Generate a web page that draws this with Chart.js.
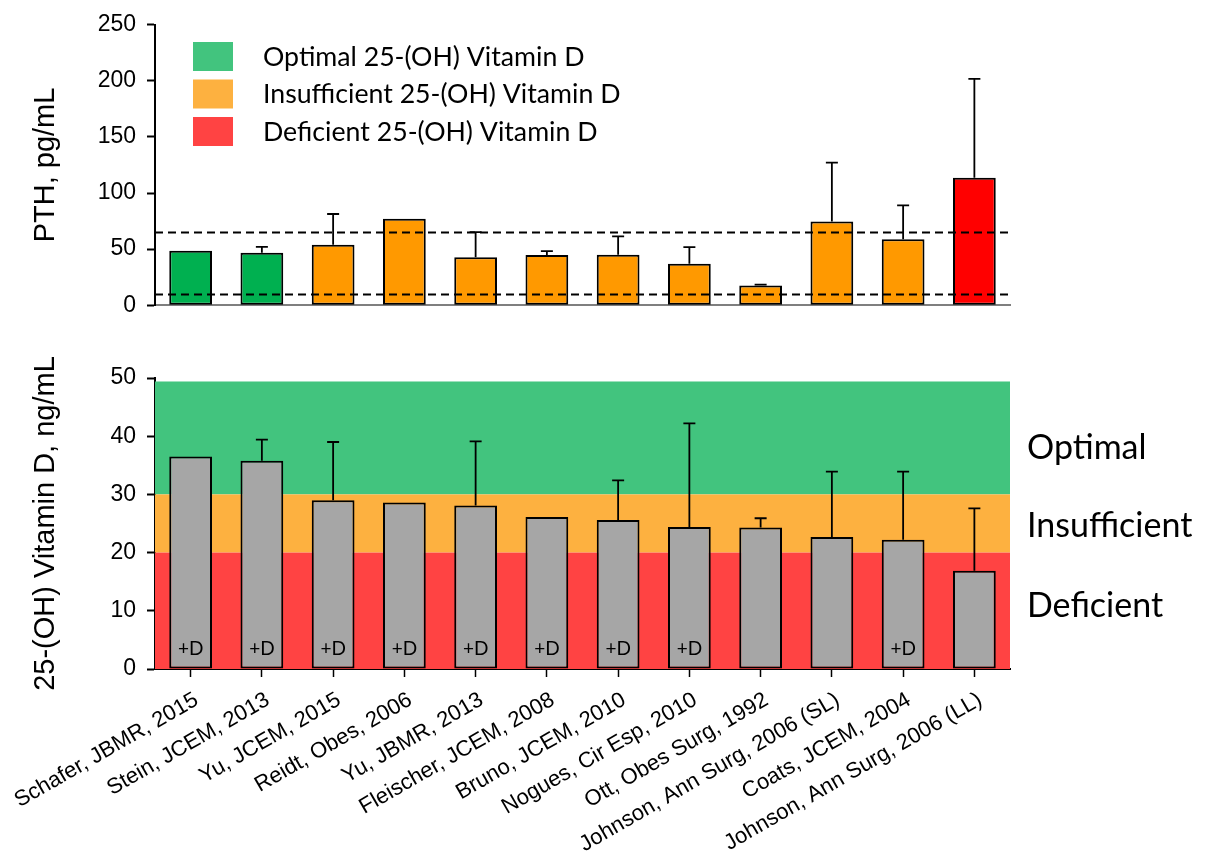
<!DOCTYPE html>
<html>
<head>
<meta charset="utf-8">
<title>PTH and 25-(OH) Vitamin D by study</title>
<script src="https://cdn.jsdelivr.net/npm/chart.js@4.4.1/dist/chart.umd.min.js"></script>
<style>
  html, body { margin: 0; padding: 0; background: #ffffff; }
  #wrap { position: relative; width: 1209px; height: 861px; overflow: hidden; }
  .panel { position: absolute; left: 0; }
</style>
</head>
<body>
<div id="wrap">
  <div class="panel" style="top:0px"><canvas id="pthChart" width="1209" height="330"></canvas></div>
  <div class="panel" style="top:340px"><canvas id="vitdChart" width="1209" height="521"></canvas></div>
</div>
<script>
// ---- data ----
const studies = [
  'Schafer, JBMR, 2015', 'Stein, JCEM, 2013', 'Yu, JCEM, 2015', 'Reidt, Obes, 2006',
  'Yu, JBMR, 2013', 'Fleischer, JCEM, 2008', 'Bruno, JCEM, 2010', 'Nogues, Cir Esp, 2010',
  'Ott, Obes Surg, 1992', 'Johnson, Ann Surg, 2006 (SL)', 'Coats, JCEM, 2004', 'Johnson, Ann Surg, 2006 (LL)'
];
// vitamin D status of each study group (colours the PTH bars)
const studyStatus = [
  'optimal', 'optimal', 'insufficient', 'insufficient', 'insufficient', 'insufficient',
  'insufficient', 'insufficient', 'insufficient', 'insufficient', 'insufficient', 'deficient'
];
const pthMean = [48.5, 46.8, 54.0, 77.0, 42.8, 44.8, 45.0, 37.0, 17.5, 74.7, 58.8, 113.7];
const pthSD   = [null, 5.2, 27.3, null, 22.4, 3.4, 16.4, 14.7, 0.8, 52.5, 30.2, 88.1];
const pthNormalRange = [10, 65];

const vitDMean = [36.5, 35.8, 29.0, 28.6, 28.1, 26.1, 25.6, 24.4, 24.3, 22.7, 22.2, 16.9];
const vitDSD   = [null, 3.6, 10.0, null, 11.0, null, 6.8, 17.8, 1.6, 11.2, 11.7, 10.7];
const supplemented = [true, true, true, true, true, true, true, true, false, false, true, false];

const statusKeys   = ['optimal', 'insufficient', 'deficient'];
const legendTexts  = ['Optimal 25-(OH) Vitamin D', 'Insufficient 25-(OH) Vitamin D', 'Deficient 25-(OH) Vitamin D'];
const bandTexts    = ['Optimal', 'Insufficient', 'Deficient'];
const bandRanges   = [[30, 49.4], [20, 30], [0, 20]];
const bandTextAt   = [38, 24.6, 10.8];

const pthTicks  = { min: 0, max: 250, step: 50 };
const vitDTicks = { min: 0, max: 50, step: 10 };

// ---- styling ----
const barColour  = { optimal: '#00B050', insufficient: '#FF9900', deficient: '#FF0000' };
const zoneColour = { optimal: '#42C47E', insufficient: '#FDB140', deficient: '#FF4343' };
const greyBar = '#A6A6A6';
const sans = "'Liberation Sans', Arial, sans-serif";
const humanist = "Lato, 'Open Sans', sans-serif";

Chart.defaults.font.family = sans;
Chart.defaults.color = '#000';
Chart.defaults.animation = false;

// upward error whiskers, mean + SD
const errorBars = {
  id: 'errorBars',
  afterDatasetsDraw(chart, args, opts) {
    const { ctx } = chart;
    const meta = chart.getDatasetMeta(0);
    const y = chart.scales.y;
    ctx.save();
    ctx.strokeStyle = '#000';
    ctx.lineWidth = 1.8;
    opts.sd.forEach((sd, i) => {
      if (sd == null) return;
      const bar = meta.data[i];
      const top = y.getPixelForValue(opts.mean[i] + sd);
      ctx.beginPath();
      ctx.moveTo(bar.x, bar.y);
      ctx.lineTo(bar.x, top);
      ctx.moveTo(bar.x - 6, top);
      ctx.lineTo(bar.x + 6, top);
      ctx.stroke();
    });
    ctx.restore();
  }
};

// dashed reference lines for the PTH normal range
const referenceLines = {
  id: 'referenceLines',
  afterDatasetsDraw(chart, args, opts) {
    if (!opts.values) return;
    const { ctx, chartArea } = chart;
    const y = chart.scales.y;
    ctx.save();
    ctx.strokeStyle = '#000';
    ctx.lineWidth = 1.8;
    ctx.setLineDash([8, 5]);
    opts.values.forEach(v => {
      const py = Math.round(y.getPixelForValue(v)) + 0.5;
      ctx.beginPath();
      ctx.moveTo(chartArea.left, py);
      ctx.lineTo(chartArea.right, py);
      ctx.stroke();
    });
    ctx.restore();
  }
};

// colour key for vitamin D status
const statusKey = {
  id: 'statusKey',
  afterDraw(chart, args, opts) {
    if (!opts.show) return;
    const { ctx } = chart;
    ctx.save();
    ctx.font = '26.7px ' + humanist;
    ctx.textBaseline = 'middle';
    ctx.textAlign = 'left';
    statusKeys.forEach((k, i) => {
      const top = 42 + i * 37.5;
      ctx.fillStyle = zoneColour[k];
      ctx.fillRect(193, top, 40, 29);
      ctx.fillStyle = '#000';
      ctx.fillText(legendTexts[i], 263, top + 15);
    });
    ctx.restore();
  }
};

// status zones behind the vitamin D bars, with their names at the right
const statusZones = {
  id: 'statusZones',
  beforeDatasetsDraw(chart, args, opts) {
    if (!opts.show) return;
    const { ctx, chartArea } = chart;
    const y = chart.scales.y;
    ctx.save();
    statusKeys.forEach((k, i) => {
      const [lo, hi] = bandRanges[i];
      const top = y.getPixelForValue(hi);
      const bottom = y.getPixelForValue(lo);
      ctx.fillStyle = zoneColour[k];
      ctx.fillRect(chartArea.left, top, chartArea.right - chartArea.left, bottom - top);
    });
    ctx.restore();
  },
  afterDraw(chart, args, opts) {
    if (!opts.show) return;
    const { ctx, chartArea } = chart;
    const y = chart.scales.y;
    ctx.save();
    ctx.font = '34px ' + humanist;
    ctx.textBaseline = 'middle';
    ctx.textAlign = 'left';
    ctx.fillStyle = '#000';
    bandTexts.forEach((t, i) => {
      ctx.fillText(t, chartArea.right + 17, y.getPixelForValue(bandTextAt[i]));
    });
    ctx.restore();
  }
};

// "+D" marks on supplemented groups
const supplementMarks = {
  id: 'supplementMarks',
  afterDatasetsDraw(chart, args, opts) {
    if (!opts.flags) return;
    const { ctx } = chart;
    const meta = chart.getDatasetMeta(0);
    const base = chart.scales.y.getPixelForValue(0);
    ctx.save();
    ctx.font = '19px ' + humanist;
    ctx.textAlign = 'center';
    ctx.textBaseline = 'middle';
    ctx.fillStyle = '#000';
    opts.flags.forEach((f, i) => {
      if (f) ctx.fillText('+D', meta.data[i].x, base - 20);
    });
    ctx.restore();
  }
};

Chart.register(errorBars, referenceLines, statusKey, statusZones, supplementMarks);

function yAxis(ticks, title) {
  return {
    min: ticks.min,
    max: ticks.max,
    afterFit(scale) { scale.width = 155; },
    ticks: { stepSize: ticks.step, font: { size: 23 }, color: '#000', padding: 11 },
    grid: { drawOnChartArea: false, tickLength: 8, tickColor: '#000', tickWidth: 2 },
    border: { color: '#000', width: 2 },
    title: { display: true, text: title, font: { size: 29 }, color: '#000', padding: { top: 29, bottom: 0 } }
  };
}

// PTH panel
new Chart(document.getElementById('pthChart'), {
  type: 'bar',
  data: {
    labels: studies,
    datasets: [{
      data: pthMean,
      backgroundColor: studyStatus.map(s => barColour[s]),
      borderColor: '#000',
      borderWidth: 2,
      borderSkipped: false,
      barPercentage: 0.6,
      categoryPercentage: 1.0
    }]
  },
  options: {
    responsive: false,
    devicePixelRatio: 1,
    layout: { padding: { left: 0, right: 199, top: 17, bottom: 0 } },
    plugins: {
      legend: { display: false },
      tooltip: { enabled: false },
      errorBars: { mean: pthMean, sd: pthSD },
      referenceLines: { values: pthNormalRange },
      statusKey: { show: true }
    },
    scales: {
      x: {
        afterFit(scale) { scale.height = 23; },
        ticks: { display: false },
        grid: { display: true, drawOnChartArea: false, drawTicks: false },
        border: { color: '#7F7F7F', width: 2 }
      },
      y: yAxis(pthTicks, 'PTH, pg/mL')
    }
  }
});

// 25-(OH) vitamin D panel
new Chart(document.getElementById('vitdChart'), {
  type: 'bar',
  data: {
    labels: studies,
    datasets: [{
      data: vitDMean,
      backgroundColor: greyBar,
      borderColor: '#000',
      borderWidth: 2,
      borderSkipped: false,
      barPercentage: 0.6,
      categoryPercentage: 1.0
    }]
  },
  options: {
    responsive: false,
    devicePixelRatio: 1,
    layout: { padding: { left: 0, right: 199, top: 38, bottom: 0 } },
    plugins: {
      legend: { display: false },
      tooltip: { enabled: false },
      errorBars: { mean: vitDMean, sd: vitDSD },
      statusZones: { show: true },
      supplementMarks: { flags: supplemented }
    },
    scales: {
      x: {
        afterFit(scale) {
          scale.height = 192;
          // rotated names may spill into the margin; keep the plot edges fixed
          scale.paddingLeft = 0;
          scale.paddingRight = 0;
        },
        ticks: { font: { size: 22 }, color: '#000', minRotation: 30, maxRotation: 30, autoSkip: false, padding: 10, labelOffset: 6 },
        grid: { offset: false, drawOnChartArea: false, tickLength: 8, tickColor: '#000', tickWidth: 1.5 },
        border: { color: '#000', width: 2 }
      },
      y: yAxis(vitDTicks, '25-(OH) Vitamin D, ng/mL')
    }
  }
});
</script>
</body>
</html>
